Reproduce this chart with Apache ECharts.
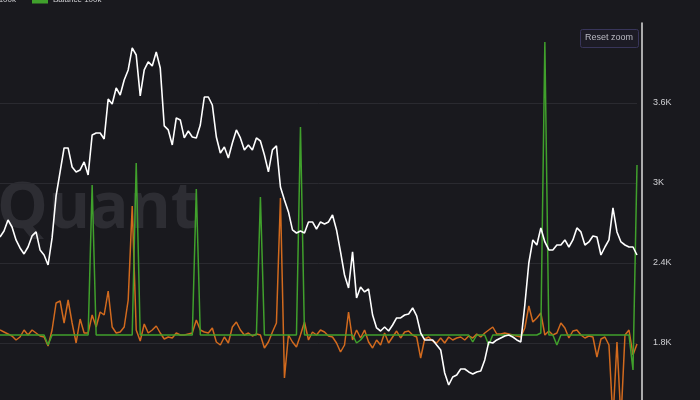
<!DOCTYPE html>
<html>
<head>
<meta charset="utf-8">
<script src="https://cdn.jsdelivr.net/npm/echarts@6/dist/echarts.min.js"></script>
<style>html,body{margin:0;padding:0;background:#19191e;}#c{width:700px;height:400px;}</style>
</head>
<body>
<div id="c"></div>
<script>
// ---- data ----
const priceName = 'Price';
const orangeName = 'Balance 10k~100k';
const greenName = 'Balance 100k~';
const yTicks = [1800, 2400, 3000, 3600];

const price = [
  2595,2640,2723,2670,2573,2513,2468,2520,2603,2633,
  2498,2460,2385,2588,2903,3083,3263,3263,3120,3083,
  3098,3158,3060,3360,3375,3375,3330,3630,3593,3713,
  3660,3773,3848,4013,3960,3653,3848,3908,3878,3983,
  3863,3428,3398,3285,3488,3473,3338,3390,3345,3338,
  3435,3645,3645,3585,3345,3225,3270,3188,3300,3398,
  3338,3248,3285,3248,3338,3315,3210,3083,3248,3278,
  2970,2873,2783,2648,2625,2640,2625,2708,2708,2655,
  2708,2693,2708,2760,2648,2483,2310,2213,2483,2138,
  2220,2183,2205,2010,1913,1890,1920,1890,1935,1988,
  1988,2010,2018,2063,2003,1875,1823,1823,1823,1785,
  1748,1575,1485,1545,1560,1605,1605,1583,1568,1583,
  1590,1673,1808,1800,1823,1838,1853,1860,1845,1823,
  1808,2085,2400,2573,2535,2663,2558,2498,2498,2535,
  2535,2573,2520,2573,2663,2633,2535,2558,2603,2595,
  2460,2520,2573,2813,2633,2558,2535,2520,2520,2460
];

const orange = [
  5,3,1,-1,-5,-2,5,0,5,2,
  -1,-2,-11,5,32,34,12,35,12,-8,
  16,2,2,20,8,23,20,44,8,2,
  3,8,35,129,5,-6,11,2,5,9,
  2,-4,-2,-3,2,0,0,1,2,15,
  5,3,2,7,-7,-10,-2,-8,8,13,
  5,0,2,-1,1,0,-13,-7,3,12,
  137,-43,0,-7,-12,0,13,-5,3,0,
  5,3,-1,-2,-8,-17,-10,23,-5,5,
  -3,5,-7,-13,-5,-10,2,-8,-2,4,
  -3,3,4,0,-2,-23,-4,-2,-6,-8,
  -3,-8,-2,-5,-3,-2,-5,-1,-3,1,
  -2,2,5,8,1,1,2,1,0,-1,
  -2,7,29,13,17,22,0,4,0,2,
  12,7,-3,4,5,0,-3,-1,-2,-22,
  -4,-2,-10,-85,-7,-85,0,5,-20,-9
];

const green = [
  0,0,0,0,0,0,0,0,0,0,
  0,0,-10,0,0,0,0,0,0,0,
  0,0,0,150,0,0,0,0,0,0,
  0,0,0,0,172,0,0,0,0,0,
  0,0,0,0,0,0,0,0,0,146,
  0,0,0,0,0,0,0,0,0,0,
  0,0,0,0,0,138,0,0,0,0,
  0,0,0,0,0,208,0,0,0,0,
  0,0,0,0,0,0,0,0,0,-8,
  -5,0,0,0,0,0,0,0,0,0,
  0,0,0,0,0,0,0,0,0,0,
  0,0,0,0,0,0,0,0,-7,0,
  0,0,-10,0,0,0,0,0,0,0,
  0,0,0,0,0,2,293,0,0,-10,
  0,0,0,0,0,0,0,0,0,0,
  0,0,0,0,0,0,0,0,-35,170
];

const categories = price.map((_, i) => 'D' + (i + 1));

const chart = echarts.init(document.getElementById('c'), null, {renderer: 'canvas'});
const FONT = 'Liberation Sans, Arial, sans-serif';

chart.setOption({
  animation: false,
  backgroundColor: '#19191e',
  legend: [
    {
      data: [greenName], left: 32, top: -4, padding: 0,
      icon: 'rect', itemWidth: 16, itemHeight: 7, itemGap: 16,
      textStyle: {color: '#cfcfd3', fontSize: 8, fontFamily: FONT}
    },
    {
      data: [orangeName], right: 684, top: -4, padding: 0,
      icon: 'rect', itemWidth: 16, itemHeight: 7,
      textStyle: {color: '#cfcfd3', fontSize: 8, fontFamily: FONT}
    }
  ],
  graphic: [
    {
      type: 'text', left: -3, top: 178, z: 0, silent: true,
      style: {text: 'Quant', fill: '#2d2d33', font: 'bold 64px "Open Sans", sans-serif'}
    },
    {
      type: 'rect', left: 580, top: 29, z: 100,
      shape: {width: 58, height: 18, r: 2},
      style: {fill: '#1c1b25', stroke: '#38355a', lineWidth: 1}
    },
    {
      type: 'text', z: 101, x: 609, y: 38,
      style: {text: 'Reset zoom', fill: '#b9b9c2', fontSize: 9, fontFamily: FONT, align: 'center', verticalAlign: 'middle'}
    }
  ],
  grid: {left: 0, right: 63, top: 23, bottom: -23, outerBoundsMode: 'none', containLabel: false},
  xAxis: {
    type: 'category', data: categories, boundaryGap: false, show: false
  },
  yAxis: [
    {
      type: 'value', position: 'right', min: 1200, max: 4200, interval: 600, offset: 5,
      axisLine: {show: true, lineStyle: {color: '#dcdcdc', width: 1.5}},
      axisTick: {show: false},
      axisLabel: {margin: 11, showMaxLabel: false, showMinLabel: false,
        color: '#d0d0d4', fontSize: 9, fontFamily: FONT,
        formatter: v => (yTicks.indexOf(v) >= 0 ? (v / 1000) + 'K' : '')},
      splitLine: {show: true, showMaxLine: false, showMinLine: false, lineStyle: {color: '#2a2a30', width: 1}}
    },
    {
      type: 'value', show: false, min: -88, max: 312, splitLine: {show: false}
    }
  ],
  series: [
    {
      name: orangeName, type: 'line', yAxisIndex: 1, data: orange, showSymbol: false,
      lineStyle: {color: '#d26a1e', width: 1.5}, itemStyle: {color: '#d26a1e'}, z: 2
    },
    {
      name: greenName, type: 'line', yAxisIndex: 1, data: green, showSymbol: false,
      lineStyle: {color: '#40a02c', width: 1.5}, itemStyle: {color: '#40a02c'}, z: 3
    },
    {
      name: priceName, type: 'line', yAxisIndex: 0, data: price, showSymbol: false,
      lineStyle: {color: '#ffffff', width: 1.6}, itemStyle: {color: '#ffffff'}, z: 4
    }
  ]
});
</script>
</body>
</html>
